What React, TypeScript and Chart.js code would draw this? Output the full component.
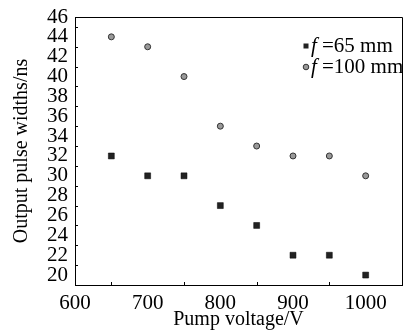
import React, { useEffect, useRef } from 'react';
import { Chart, registerables } from 'chart.js';

Chart.register(...registerables);

const voltages = [650, 700, 750, 800, 850, 900, 950, 1000];
const widths65 = [32, 30, 30, 27, 25, 22, 22, 20];
const widths100 = [44, 43, 40, 35, 33, 32, 32, 30];
const xTickValues = [600, 700, 800, 900, 1000];
const xMinorValues = [650, 750, 850, 950, 1050];
const yTickValues = [20, 22, 24, 26, 28, 30, 32, 34, 36, 38, 40, 42, 44, 46];
const yMinorValues = [19, 21, 23, 25, 27, 29, 31, 33, 35, 37, 39, 41, 43, 45];
const legendValues = ['=65 mm', '=100 mm'];
const xTitle = 'Pump voltage/V';
const yTitle = 'Output pulse widths/ns';

const FONT = "'Liberation Serif', 'Times New Roman', serif";

const decorPlugin = {
  id: 'decor',
  afterDraw(chart: any) {
    const { ctx, chartArea } = chart;
    const { left, right, top, bottom } = chartArea;
    const xs = chart.scales.x;
    const ys = chart.scales.y;
    ctx.save();
    ctx.strokeStyle = '#000';
    ctx.lineWidth = 1;
    ctx.beginPath();
    ctx.moveTo(left + 0.5, bottom + 0.5);
    ctx.lineTo(left + 0.5, top + 0.5);
    ctx.lineTo(right + 0.5, top + 0.5);
    ctx.lineTo(right + 0.5, bottom + 0.5);
    ctx.lineTo(left + 0.5, bottom + 0.5);
    ctx.stroke();
    ctx.beginPath();
    xMinorValues.forEach((v) => {
      const px = Math.round(xs.getPixelForValue(v)) + 0.5;
      ctx.moveTo(px, bottom);
      ctx.lineTo(px, bottom - 3);
    });
    yMinorValues.forEach((v) => {
      const py = Math.round(ys.getPixelForValue(v)) + 0.5;
      ctx.moveTo(left, py);
      ctx.lineTo(left + 3, py);
    });
    ctx.stroke();
    const rows = [46, 67];
    rows.forEach((y, i) => {
      const mx = 306;
      if (i === 0) {
        ctx.fillStyle = '#222';
        ctx.fillRect(mx - 2.5, y - 2.5, 5, 5);
      } else {
        ctx.beginPath();
        ctx.arc(mx, y, 2.8, 0, Math.PI * 2);
        ctx.fillStyle = '#999';
        ctx.fill();
        ctx.strokeStyle = '#333';
        ctx.stroke();
      }
      ctx.fillStyle = '#000';
      ctx.textBaseline = 'middle';
      ctx.font = `italic 21px ${FONT}`;
      ctx.fillText('f', 311, y);
      ctx.font = `21px ${FONT}`;
      ctx.fillText(legendValues[i], 322, y);
    });
    ctx.restore();
  },
};

export default function App() {
  const ref = useRef<HTMLCanvasElement>(null);
  useEffect(() => {
    document.body.style.margin = '0';
    const canvas = ref.current!;
    const chart = new Chart(canvas, {
      type: 'scatter',
      data: {
        datasets: [
          {
            label: 'f=65 mm',
            data: voltages.map((v, i) => ({ x: v, y: widths65[i] })),
            pointStyle: 'rect',
            pointRadius: 4.2,
            backgroundColor: '#222',
            borderColor: '#000',
            borderWidth: 0.5,
          },
          {
            label: 'f=100 mm',
            data: voltages.map((v, i) => ({ x: v, y: widths100[i] })),
            pointStyle: 'circle',
            pointRadius: 3,
            backgroundColor: '#999',
            borderColor: '#333',
            borderWidth: 1,
          },
        ],
      },
      options: {
        responsive: false,
        animation: false,
        layout: { padding: { left: 0, right: 2, top: 17, bottom: 0 } },
        plugins: { legend: { display: false }, tooltip: { enabled: false } },
        scales: {
          x: {
            type: 'linear',
            min: 600,
            max: 1050,
            afterBuildTicks: (s: any) => {
              s.ticks = xTickValues.map((v) => ({ value: v }));
            },
            afterFit: (s: any) => {
              s.height = 47;
            },
            grid: { display: false, drawOnChartArea: false, drawTicks: true, tickLength: 5, tickColor: '#000' },
            border: { display: true, color: '#000', width: 1 },
            ticks: {
              color: '#000',
              font: { family: FONT, size: 21 },
              padding: 1,
              maxRotation: 0,
              autoSkip: false,
              callback: (v: any) => String(v),
            },
            title: { display: true, text: xTitle, color: '#000', font: { family: FONT, size: 20 }, padding: { top: 0, bottom: 0 } },
          },
          y: {
            type: 'linear',
            min: 19,
            max: 46,
            afterBuildTicks: (s: any) => {
              s.ticks = yTickValues.map((v) => ({ value: v }));
            },
            afterFit: (s: any) => {
              s.width = 75;
            },
            grid: { display: false, drawOnChartArea: false, drawTicks: true, tickLength: 6, tickColor: '#000' },
            border: { display: true, color: '#000', width: 1 },
            ticks: {
              color: '#000',
              font: { family: FONT, size: 21 },
              padding: 1,
              autoSkip: false,
              callback: (v: any) => String(v),
            },
            title: { display: true, text: yTitle, color: '#000', font: { family: FONT, size: 20 }, padding: { top: 10, bottom: 0 } },
          },
        },
      },
      plugins: [decorPlugin],
    });
    return () => chart.destroy();
  }, []);
  return (
    <div style={{ position: 'absolute', left: 0, top: 0, width: 407, height: 332 }}>
      <canvas ref={ref} width={407} height={332} style={{ width: 407, height: 332 }} />
    </div>
  );
}
